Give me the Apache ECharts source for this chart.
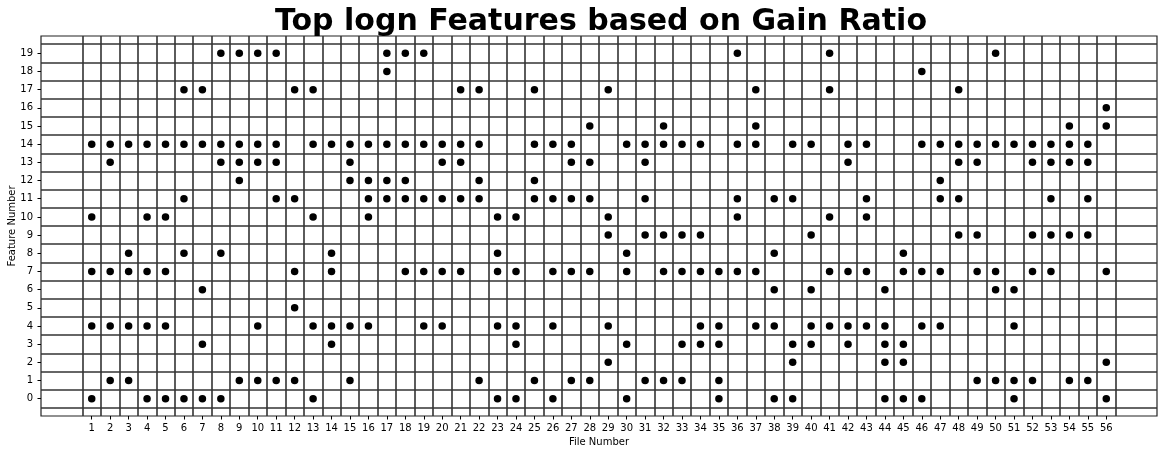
<!DOCTYPE html>
<html>
<head>
<meta charset="utf-8">
<script src="https://cdn.jsdelivr.net/npm/echarts@6/dist/echarts.min.js"></script>
<style>
html,body{margin:0;padding:0;background:#fff;}
#chart{width:1164px;height:454px;}
</style>
</head>
<body>
<div id="chart"></div>
<script>
// File numbers (x categories) and feature numbers (y categories)
const fileNumbers = Array.from({length: 56}, (_, i) => i + 1);
const featureNumbers = Array.from({length: 20}, (_, i) => i);

// For each feature: file numbers where that feature is in the top list
const feature0  = [1,4,5,6,7,8,13,23,24,26,30,35,38,39,44,45,46,51,56];
const feature1  = [2,3,9,10,11,12,15,22,25,27,28,31,32,33,35,49,50,51,52,54,55];
const feature2  = [29,39,44,45,56];
const feature3  = [7,14,24,30,33,34,35,39,40,42,44,45];
const feature4  = [1,2,3,4,5,10,13,14,15,16,19,20,23,24,26,29,34,35,37,38,40,41,42,43,44,46,47,51];
const feature5  = [12];
const feature6  = [7,38,40,44,50,51];
const feature7  = [1,2,3,4,5,12,14,18,19,20,21,23,24,26,27,28,30,32,33,34,35,36,37,41,42,43,45,46,47,49,50,52,53,56];
const feature8  = [3,6,8,14,23,30,38,45];
const feature9  = [29,31,32,33,34,40,48,49,52,53,54,55];
const feature10 = [1,4,5,13,16,23,24,29,36,41,43];
const feature11 = [6,11,12,16,17,18,19,20,21,22,25,26,27,28,31,36,38,39,43,47,48,53,55];
const feature12 = [9,15,16,17,18,22,25,47];
const feature13 = [2,8,9,10,11,15,20,21,27,28,31,42,48,49,52,53,54,55];
const feature14 = [1,2,3,4,5,6,7,8,9,10,11,13,14,15,16,17,18,19,20,21,22,25,26,27,30,31,32,33,34,36,37,39,40,42,43,46,47,48,49,50,51,52,53,54,55];
const feature15 = [28,32,37,54,56];
const feature16 = [56];
const feature17 = [6,7,12,13,21,22,25,29,37,41,48];
const feature18 = [17,46];
const feature19 = [8,9,10,11,17,18,19,36,41,50];

const featureFiles = [feature0,feature1,feature2,feature3,feature4,feature5,feature6,feature7,feature8,feature9,
  feature10,feature11,feature12,feature13,feature14,feature15,feature16,feature17,feature18,feature19];

const points = [];
featureFiles.forEach((files, feat) => files.forEach(f => points.push([f, feat])));

// cell boundaries at half steps between categories
const xBounds = [0, ...fileNumbers].map(v => v + 0.5);
const yBounds = [-1, ...featureNumbers].map(v => v + 0.5);

const gridLines = [
  ...xBounds.map(v => ({xAxis: v})),
  ...yBounds.map(v => ({yAxis: v}))
];

const chart = echarts.init(document.getElementById('chart'), null, {renderer: 'canvas'});
const font = 'DejaVu Sans';
chart.setOption({
  animation: false,
  backgroundColor: '#ffffff',
  title: {
    text: 'Top logn Features based on Gain Ratio',
    left: 596,
    textAlign: 'center',
    top: 2,
    textStyle: {fontFamily: font, fontWeight: 'bold', fontSize: 30, color: '#000'}
  },
  grid: {
    left: 41, right: 7, top: 36, bottom: 38,
    outerBoundsMode: 'none',
    containLabel: false,
    show: true, borderColor: '#222', borderWidth: 1.2, backgroundColor: 'transparent'
  },
  xAxis: {
    type: 'value',
    min: -1.75, max: 58.75,
    name: 'File Number',
    nameLocation: 'middle',
    nameGap: 21,
    nameMoveOverlap: false,
    nameTextStyle: {fontFamily: font, fontSize: 10, color: '#000', verticalAlign: 'top'},
    splitLine: {show: false},
    axisLine: {show: false, onZero: false},
    axisTick: {show: true, length: 3.5, customValues: fileNumbers, lineStyle: {color: '#000', width: 1}},
    axisLabel: {customValues: fileNumbers, fontFamily: font, fontSize: 10, color: '#000', margin: 7}
  },
  yAxis: {
    type: 'value',
    min: -0.95, max: 19.95,
    name: 'Feature Number',
    nameLocation: 'middle',
    nameGap: 29,
    nameMoveOverlap: false,
    nameRotate: 90,
    nameTextStyle: {fontFamily: font, fontSize: 10, color: '#000', verticalAlign: 'middle'},
    splitLine: {show: false},
    axisLine: {show: false, onZero: false},
    axisTick: {show: true, length: 3.5, customValues: featureNumbers, lineStyle: {color: '#000', width: 1}},
    axisLabel: {customValues: featureNumbers, fontFamily: font, fontSize: 10, color: '#000', margin: 8}
  },
  series: [
    {
      type: 'scatter',
      data: [],
      z: 1,
      silent: true,
      markLine: {
        silent: true,
        symbol: ['none', 'none'],
        label: {show: false},
        emphasis: {disabled: true},
        lineStyle: {type: 'solid', color: '#333', width: 1.6},
        data: gridLines,
        animation: false
      }
    },
    {
      type: 'scatter',
      z: 5,
      symbol: 'circle',
      symbolSize: 7.5,
      itemStyle: {color: '#000', opacity: 1},
      data: points
    }
  ]
});
</script>
</body>
</html>
